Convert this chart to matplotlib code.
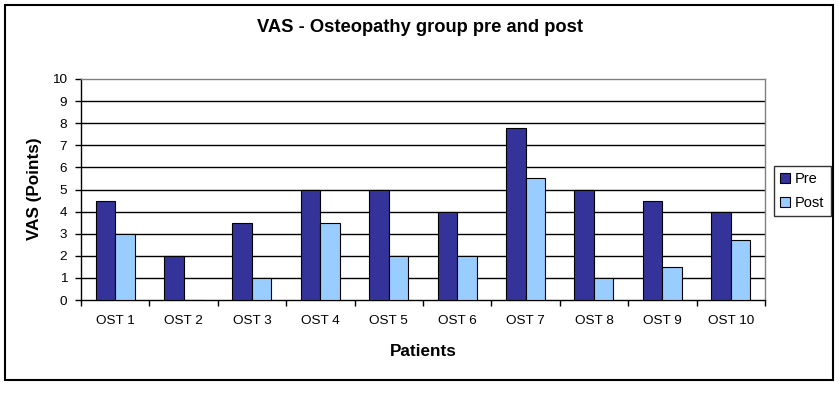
import matplotlib
matplotlib.use("Agg")
import matplotlib.pyplot as plt
import numpy as np
from matplotlib.patches import Rectangle

patients = ["OST 1", "OST 2", "OST 3", "OST 4", "OST 5",
            "OST 6", "OST 7", "OST 8", "OST 9", "OST 10"]
pre = [4.5, 2.0, 3.5, 5.0, 5.0, 4.0, 7.8, 5.0, 4.5, 4.0]
post = [3.0, 0.0, 1.0, 3.5, 2.0, 2.0, 5.5, 1.0, 1.5, 2.7]

plt.rcParams["font.family"] = ["Liberation Sans", "DejaVu Sans"]

fig = plt.figure(figsize=(8.4, 3.93), dpi=100)
ax = fig.add_axes([0.0964, 0.2366, 0.8143, 0.5624])

x = np.arange(len(patients))
w = 0.285
ax.bar(x - w / 2, pre, w, color="#333399", edgecolor="black", linewidth=0.8,
       label="Pre", zorder=3)
ax.bar(x + w / 2, post, w, color="#99ccff", edgecolor="black", linewidth=0.8,
       label="Post", zorder=3)

ax.set_xlim(-0.5, len(patients) - 0.5)
ax.set_ylim(0, 10)
ax.set_yticks(range(0, 11))
for v in range(1, 10):
    ax.axhline(v, color="black", lw=1.0, zorder=1)

ax.set_xticks(x)
ax.set_xticklabels(patients, fontsize=9.7)
ax.set_xticks(np.arange(-0.5, len(patients)), minor=True)
ax.tick_params(axis="x", which="major", length=0, pad=11)
ax.tick_params(axis="x", which="minor", length=4, width=1, direction="out")
ax.tick_params(axis="y", labelsize=9.7, length=4, width=1, direction="out", pad=6)

ax.spines["left"].set_color("black")
ax.spines["bottom"].set_color("black")
ax.spines["top"].set_color("#808080")
ax.spines["right"].set_color("#808080")
for s in ax.spines.values():
    s.set_linewidth(1.0)

# axis titles placed in figure coordinates
fig.text(34.5 / 840, 1 - 189 / 393, "VAS (Points)", rotation=90, ha="center",
         va="center", fontsize=12.3, fontweight="bold")
fig.text(423 / 840, 1 - 351 / 393, "Patients", ha="center", va="center",
         fontsize=12.3, fontweight="bold")
fig.text(0.5, 1 - 28 / 393, "VAS - Osteopathy group pre and post", ha="center",
         va="center", fontsize=13.2, fontweight="bold")

leg = fig.legend(loc="center left", bbox_to_anchor=(0.921, 0.514),
                 bbox_transform=fig.transFigure, fontsize=10.5, frameon=True,
                 fancybox=False, handlelength=0.7, handleheight=0.7,
                 handletextpad=0.3, borderpad=0.45, labelspacing=0.65,
                 borderaxespad=0)
leg.get_frame().set_edgecolor("black")
leg.get_frame().set_linewidth(1.0)

fig.patches.append(Rectangle((5 / 840, 1 - 380 / 393), 828 / 840, 375 / 393,
                             transform=fig.transFigure, fill=False,
                             edgecolor="black", linewidth=1.5))

fig.savefig("out.png", dpi=100)
